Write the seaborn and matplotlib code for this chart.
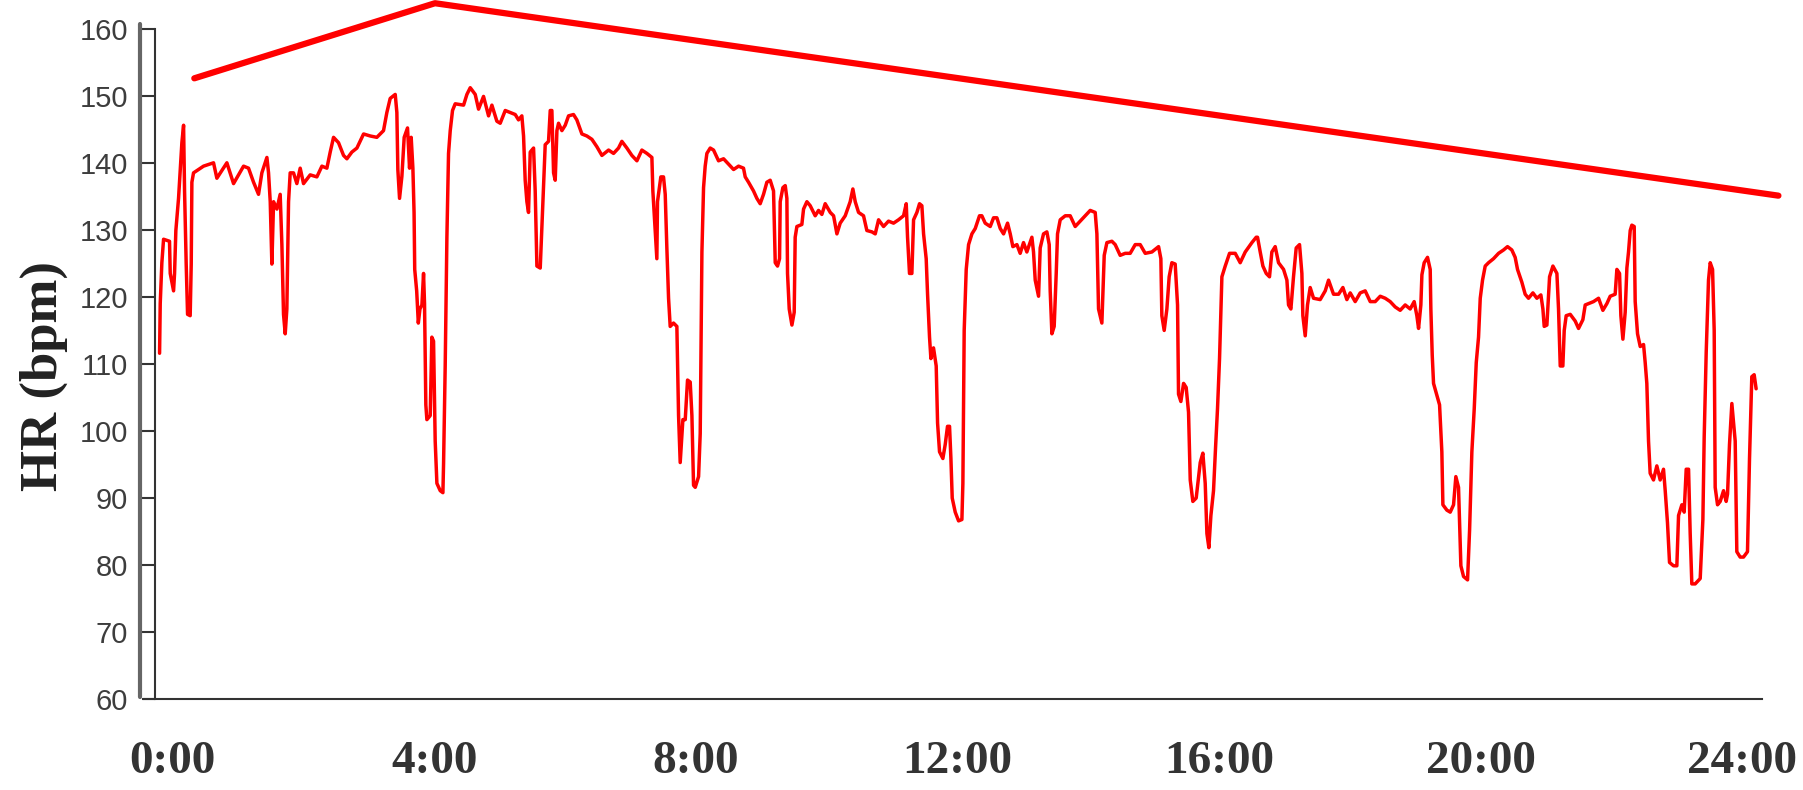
import matplotlib
matplotlib.use("Agg")
import matplotlib.pyplot as plt
import matplotlib.transforms as mtransforms
import seaborn as sns
import pandas as pd

# heart rate trace (hours, bpm)
trace_hours = [
    -0.201, -0.191, -0.166, -0.140, -0.049, -0.038, 0.013, 0.028, 0.048, 0.089,
    0.115, 0.140, 0.166, 0.181, 0.206, 0.227, 0.267, 0.283, 0.293, 0.318,
    0.471, 0.624, 0.675, 0.828, 0.930, 1.083, 1.159, 1.236, 1.312, 1.363,
    1.440, 1.465, 1.491, 1.516, 1.542, 1.593, 1.643, 1.669, 1.694, 1.720,
    1.745, 1.771, 1.796, 1.847, 1.898, 1.949, 2.000, 2.102, 2.204, 2.281,
    2.357, 2.408, 2.459, 2.535, 2.612, 2.663, 2.739, 2.816, 2.918, 3.020,
    3.121, 3.223, 3.274, 3.325, 3.402, 3.427, 3.442, 3.468, 3.504, 3.539,
    3.590, 3.621, 3.646, 3.672, 3.690, 3.700, 3.730, 3.755, 3.780, 3.810,
    3.835, 3.850, 3.870, 3.886, 3.937, 3.962, 3.988, 4.013, 4.039, 4.090,
    4.131, 4.141, 4.166, 4.192, 4.217, 4.243, 4.278, 4.319, 4.447, 4.498,
    4.549, 4.625, 4.676, 4.752, 4.829, 4.880, 4.956, 5.007, 5.084, 5.160,
    5.237, 5.287, 5.338, 5.364, 5.389, 5.415, 5.440, 5.466, 5.517, 5.542,
    5.568, 5.619, 5.644, 5.670, 5.695, 5.746, 5.772, 5.797, 5.823, 5.848,
    5.874, 5.899, 5.950, 6.001, 6.052, 6.128, 6.179, 6.256, 6.332, 6.409,
    6.485, 6.562, 6.664, 6.740, 6.816, 6.867, 6.944, 7.020, 7.097, 7.173,
    7.250, 7.326, 7.341, 7.377, 7.402, 7.412, 7.463, 7.504, 7.530, 7.555,
    7.581, 7.606, 7.657, 7.708, 7.734, 7.759, 7.800, 7.836, 7.871, 7.912,
    7.938, 7.963, 7.989, 8.040, 8.065, 8.091, 8.116, 8.141, 8.167, 8.218,
    8.269, 8.345, 8.422, 8.498, 8.575, 8.651, 8.727, 8.753, 8.804, 8.880,
    8.931, 8.982, 9.033, 9.084, 9.135, 9.186, 9.196, 9.212, 9.247, 9.278,
    9.288, 9.329, 9.365, 9.390, 9.400, 9.426, 9.467, 9.502, 9.517, 9.543,
    9.619, 9.645, 9.696, 9.747, 9.823, 9.874, 9.925, 9.976, 10.053, 10.104,
    10.155, 10.205, 10.282, 10.358, 10.399, 10.435, 10.486, 10.562, 10.613, 10.690,
    10.741, 10.792, 10.868, 10.944, 11.021, 11.097, 11.174, 11.215, 11.235, 11.265,
    11.301, 11.327, 11.378, 11.418, 11.454, 11.480, 11.520, 11.541, 11.571, 11.592,
    11.632, 11.673, 11.694, 11.724, 11.775, 11.811, 11.846, 11.877, 11.898, 11.918,
    11.964, 12.015, 12.066, 12.081, 12.101, 12.132, 12.168, 12.219, 12.270, 12.335,
    12.371, 12.422, 12.499, 12.550, 12.601, 12.652, 12.703, 12.764, 12.805, 12.845,
    12.907, 12.957, 13.008, 13.059, 13.136, 13.161, 13.187, 13.238, 13.263, 13.314,
    13.365, 13.401, 13.416, 13.442, 13.477, 13.508, 13.528, 13.569, 13.646, 13.722,
    13.798, 13.875, 13.951, 14.028, 14.104, 14.130, 14.155, 14.206, 14.242, 14.283,
    14.359, 14.410, 14.486, 14.563, 14.639, 14.716, 14.792, 14.869, 14.971, 15.073,
    15.108, 15.123, 15.159, 15.200, 15.235, 15.276, 15.327, 15.363, 15.378, 15.414,
    15.455, 15.495, 15.531, 15.557, 15.597, 15.648, 15.710, 15.750, 15.786, 15.812,
    15.842, 15.873, 15.913, 15.944, 15.974, 16.005, 16.025, 16.041, 16.092, 16.158,
    16.245, 16.321, 16.398, 16.500, 16.566, 16.586, 16.627, 16.668, 16.719, 16.769,
    16.805, 16.856, 16.907, 16.984, 17.035, 17.060, 17.096, 17.136, 17.177, 17.228,
    17.264, 17.279, 17.315, 17.350, 17.391, 17.442, 17.544, 17.621, 17.672, 17.748,
    17.825, 17.891, 17.952, 18.003, 18.079, 18.156, 18.232, 18.309, 18.385, 18.462,
    18.538, 18.614, 18.691, 18.767, 18.844, 18.920, 18.981, 19.022, 19.048, 19.083,
    19.099, 19.134, 19.185, 19.226, 19.236, 19.257, 19.277, 19.318, 19.369, 19.404,
    19.420, 19.481, 19.532, 19.583, 19.618, 19.659, 19.675, 19.695, 19.736, 19.797,
    19.828, 19.863, 19.899, 19.930, 19.965, 19.991, 20.026, 20.067, 20.118, 20.194,
    20.271, 20.347, 20.408, 20.474, 20.525, 20.561, 20.627, 20.678, 20.729, 20.796,
    20.857, 20.918, 20.949, 20.969, 21.010, 21.051, 21.102, 21.163, 21.188, 21.214,
    21.254, 21.275, 21.305, 21.367, 21.443, 21.494, 21.560, 21.596, 21.647, 21.723,
    21.800, 21.866, 21.927, 21.978, 22.054, 22.080, 22.121, 22.141, 22.172, 22.207,
    22.233, 22.258, 22.284, 22.309, 22.345, 22.360, 22.396, 22.437, 22.488, 22.513,
    22.538, 22.564, 22.589, 22.640, 22.691, 22.742, 22.793, 22.819, 22.854, 22.885,
    22.946, 22.997, 23.023, 23.074, 23.109, 23.140, 23.176, 23.201, 23.226, 23.277,
    23.354, 23.395, 23.415, 23.446, 23.481, 23.507, 23.543, 23.568, 23.583, 23.619,
    23.660, 23.711, 23.751, 23.772, 23.802, 23.838, 23.889, 23.914, 23.965, 24.016,
    24.077, 24.108, 24.143, 24.179, 24.209,
]
trace_bpm = [
    111.6, 119.0, 125.1, 128.6, 128.3, 123.5, 120.9, 123.5, 129.9, 134.7,
    139.0, 143.0, 145.6, 135.8, 124.9, 117.4, 117.2, 124.9, 137.1, 138.5,
    139.5, 140.0, 137.7, 140.0, 136.9, 139.5, 139.2, 137.1, 135.3, 138.5,
    140.8, 138.5, 134.2, 124.9, 134.2, 133.1, 135.3, 127.8, 117.4, 114.5,
    118.2, 134.2, 138.5, 138.5, 136.9, 139.2, 136.9, 138.2, 137.9, 139.5,
    139.2, 141.6, 143.8, 143.0, 141.1, 140.6, 141.6, 142.2, 144.3, 144.0,
    143.8, 144.8, 147.5, 149.6, 150.2, 147.5, 139.0, 134.7, 138.0, 143.8,
    145.2, 139.2, 143.8, 139.2, 132.6, 124.1, 120.9, 116.1, 118.2, 118.8,
    123.5, 119.0, 103.9, 101.7, 102.3, 114.0, 113.4, 98.5, 92.2, 91.1,
    90.8, 95.1, 109.7, 128.9, 141.4, 144.8, 147.8, 148.8, 148.6, 150.2,
    151.2, 150.2, 148.0, 149.9, 147.0, 148.6, 146.2, 145.9, 147.8, 147.5,
    147.2, 146.4, 147.0, 144.0, 137.4, 134.2, 132.6, 141.6, 142.2, 135.8,
    124.6, 124.3, 130.5, 136.6, 142.7, 143.2, 147.8, 147.8, 138.5, 137.4,
    144.8, 145.9, 144.8, 145.6, 147.0, 147.2, 146.4, 144.3, 144.0, 143.5,
    142.4, 141.1, 141.9, 141.4, 142.2, 143.2, 142.2, 141.1, 140.3, 141.9,
    141.4, 140.8, 135.8, 129.9, 125.7, 134.2, 137.9, 137.9, 135.3, 127.3,
    119.8, 115.6, 116.1, 115.6, 102.3, 95.3, 101.7, 101.7, 107.6, 107.3,
    102.3, 91.9, 91.6, 93.2, 99.6, 126.7, 136.3, 139.5, 141.4, 142.2,
    141.9, 140.3, 140.6, 139.8, 139.0, 139.5, 139.2, 137.9, 137.1, 135.8,
    134.7, 133.9, 135.3, 137.1, 137.4, 135.8, 131.5, 125.1, 124.6, 125.7,
    134.2, 136.3, 136.6, 134.7, 123.5, 118.2, 115.8, 117.7, 128.9, 130.5,
    130.8, 133.1, 134.2, 133.6, 132.1, 132.9, 132.3, 133.9, 132.6, 132.1,
    129.4, 131.0, 132.1, 134.2, 136.1, 134.2, 132.6, 132.1, 129.9, 129.7,
    129.4, 131.5, 130.5, 131.3, 131.0, 131.5, 132.1, 133.9, 128.9, 123.5,
    123.5, 131.5, 132.6, 133.9, 133.6, 129.4, 125.7, 120.4, 114.0, 110.8,
    112.4, 109.7, 101.2, 96.9, 95.9, 98.0, 100.7, 100.7, 95.9, 90.0,
    87.9, 86.6, 86.8, 92.2, 115.0, 124.1, 127.8, 129.4, 130.2, 132.1,
    132.1, 131.0, 130.5, 131.8, 131.8, 130.2, 129.4, 131.0, 129.4, 127.5,
    127.8, 126.5, 128.1, 126.7, 128.9, 126.7, 122.5, 120.1, 127.3, 129.4,
    129.7, 127.8, 120.9, 114.5, 115.6, 123.5, 129.4, 131.5, 132.1, 132.1,
    130.5, 131.3, 132.1, 132.9, 132.6, 129.4, 118.2, 116.1, 126.2, 128.1,
    128.3, 127.8, 126.2, 126.5, 126.5, 127.8, 127.8, 126.5, 126.7, 127.5,
    125.7, 117.2, 115.0, 118.2, 123.0, 125.1, 124.9, 118.8, 105.5, 104.4,
    107.1, 106.5, 102.8, 92.7, 89.5, 90.0, 95.3, 96.7, 92.2, 84.7,
    82.6, 87.4, 91.1, 97.5, 103.3, 110.8, 117.7, 123.0, 124.6, 126.5,
    126.5, 125.1, 126.7, 128.1, 128.9, 128.9, 126.7, 124.6, 123.5, 123.0,
    126.7, 127.5, 125.1, 124.1, 122.5, 118.8, 118.2, 123.0, 127.3, 127.8,
    123.5, 117.2, 114.2, 118.8, 121.4, 119.8, 119.6, 120.9, 122.5, 120.4,
    120.4, 121.4, 119.6, 120.6, 119.3, 120.6, 120.9, 119.3, 119.3, 120.1,
    119.8, 119.3, 118.5, 118.0, 118.8, 118.2, 119.3, 117.2, 115.3, 118.8,
    123.3, 125.1, 125.9, 124.1, 118.2, 111.3, 107.1, 105.7, 103.9, 96.9,
    89.0, 88.2, 87.9, 89.0, 93.2, 91.6, 86.3, 79.9, 78.3, 77.8,
    85.2, 96.9, 103.3, 110.2, 114.0, 119.8, 122.5, 124.6, 125.1, 125.7,
    126.5, 127.0, 127.5, 127.0, 125.9, 124.1, 122.2, 120.4, 119.8, 120.6,
    119.8, 120.3, 118.2, 115.6, 115.8, 123.0, 124.6, 123.5, 118.2, 109.7,
    109.7, 115.0, 117.2, 117.4, 116.4, 115.3, 116.6, 118.8, 119.0, 119.3,
    119.8, 118.0, 119.0, 120.1, 120.4, 124.1, 123.5, 117.2, 113.7, 117.7,
    124.3, 126.7, 129.9, 130.7, 130.5, 119.3, 114.5, 112.6, 112.9, 110.2,
    107.1, 98.5, 93.7, 92.7, 94.8, 92.7, 94.3, 91.1, 86.3, 80.4,
    79.9, 79.9, 87.4, 89.0, 87.9, 94.3, 94.3, 84.7, 77.2, 77.2,
    78.0, 86.8, 99.1, 111.8, 122.5, 125.1, 124.1, 115.0, 91.6, 89.0,
    89.5, 91.1, 89.5, 90.6, 98.0, 104.1, 98.5, 82.0, 81.2, 81.2,
    82.0, 95.9, 108.1, 108.4, 106.3,
]

# upper line drawn over the trace
peak_hours = [0.33, 4.01, 24.55]
peak_bpm = [152.6, 163.8, 135.1]

y_ticks = [60, 70, 80, 90, 100, 110, 120, 130, 140, 150, 160]
x_ticks = [0, 4, 8, 12, 16, 20, 24]
x_labels = ["0:00", "4:00", "8:00", "12:00", "16:00", "20:00", "24:00"]

sns.set_theme(style="white")

fig = plt.figure(figsize=(18.03, 7.9), dpi=100)
ax = fig.add_axes([0.0860, 0.1149, 0.8913, 0.8851])

df = pd.DataFrame({"hour": trace_hours, "hr": trace_bpm})
sns.lineplot(data=df, x="hour", y="hr", color="#ff0000", linewidth=2.5,
             estimator=None, sort=False, ax=ax)

peak_df = pd.DataFrame({"hour": peak_hours, "hr": peak_bpm})
sns.lineplot(data=peak_df, x="hour", y="hr", color="#ff0000", linewidth=4.5,
             estimator=None, sort=False, ax=ax)
ax.lines[-1].set_clip_on(False)

ax.set_xlim(-0.27, 24.30)
ax.set_ylim(60, 164.28)

for side in ["top", "right"]:
    ax.spines[side].set_visible(False)
ax.spines["left"].set_color("#333333")
ax.spines["left"].set_linewidth(1.5)
ax.spines["left"].set_bounds(60, 160)
ax.spines["bottom"].set_color("#333333")
ax.spines["bottom"].set_linewidth(1.5)
ax.spines["bottom"].set_bounds(-0.436, 24.30)

# second (grey) axis rule left of the spine, as in the scan
trans = mtransforms.blended_transform_factory(ax.transAxes, ax.transData)
ax.plot([-0.0092, -0.0092], [60.3, 160.7], transform=trans, color="#666666",
        linewidth=3, clip_on=False)

ax.set_yticks(y_ticks)
ax.tick_params(axis="y", direction="out", length=9.1, width=1.5, color="#333333",
               pad=10.3, labelsize=21, labelcolor="#3d3d3d", left=True)
for lab in ax.get_yticklabels():
    lab.set_fontfamily("Liberation Sans")

ax.set_xticks(x_ticks, x_labels)
ax.tick_params(axis="x", length=0, pad=30)
for lab in ax.get_xticklabels():
    lab.set_fontfamily("Liberation Serif")
    lab.set_fontweight("bold")
    lab.set_fontsize(34)
    lab.set_color("#333333")

ax.set_xlabel("")
ax.set_ylabel("HR (bpm)", fontsize=38, fontweight="bold",
              family="Liberation Serif", color="#222222")
ax.yaxis.set_label_coords(-0.0543, 0.462)
ax.grid(False)

fig.savefig("out.png", dpi=100, facecolor="white")
